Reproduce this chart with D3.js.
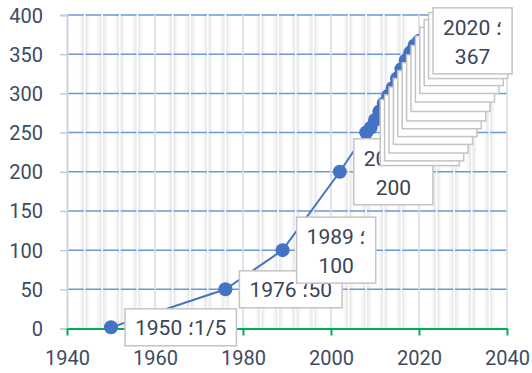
<!DOCTYPE html>
<html>
<head>
<meta charset="utf-8">
<script src="https://cdn.jsdelivr.net/npm/d3@7"></script>
<style>
  html, body { margin: 0; padding: 0; background: #ffffff; }
  svg { display: block; }
  text { font-family: Roboto, "Noto Sans", "DejaVu Sans", sans-serif; }
</style>
</head>
<body>
<svg id="chart" width="532" height="373"></svg>
<script>
// Series: year and value of each point
const years  = [1950, 1976, 1989, 2002, 2008, 2009, 2010, 2011, 2012, 2013, 2014, 2015, 2016, 2017, 2018, 2019, 2020];
const values = [1.5,  50,   100,  200,  250,  256,  266,  277,  287,  297,  307,  319,  331,  342,  352,  361,  367];

// Axis ticks
const xTicks = [1940, 1960, 1980, 2000, 2020, 2040];
const yTicks = [0, 50, 100, 150, 200, 250, 300, 350, 400];
const minorStep = 4;

const W = 532, H = 373;
const margin = { top: 15, right: 25, bottom: 44.5, left: 67 };

const svg = d3.select("#chart");
const x = d3.scaleLinear().domain([1940, 2040]).range([margin.left, W - margin.right]);
const y = d3.scaleLinear().domain([0, 400]).range([H - margin.bottom, margin.top]);

const plotTop = y(400), plotBottom = y(0), plotLeft = x(1940), plotRight = x(2040);

// Soft shading for the minor vertical gridlines
const defs = svg.append("defs");
const grad = defs.append("linearGradient").attr("id", "minorBand")
  .attr("x1", "0").attr("x2", "1").attr("y1", "0").attr("y2", "0");
[[0, "#ffffff", 0], [0.3, "#f0f0f0", 1], [0.46, "#e6e6e6", 1], [0.5, "#ffffff", 1],
 [0.54, "#e6e6e6", 1], [0.7, "#f0f0f0", 1], [1, "#ffffff", 0]].forEach(([o, c, a]) => {
  grad.append("stop").attr("offset", o).attr("stop-color", c).attr("stop-opacity", a);
});

const minorYears = d3.range(1940 + minorStep, 2040, minorStep).filter(v => v % 20 !== 0);

const grid = svg.append("g");
grid.selectAll("rect.band").data(minorYears).join("rect")
  .attr("class", "band")
  .attr("x", d => x(d) - 7).attr("width", 14)
  .attr("y", plotTop).attr("height", plotBottom - plotTop)
  .attr("fill", "url(#minorBand)");

// Horizontal gridlines
grid.selectAll("line.h").data(yTicks.filter(v => v > 0)).join("line")
  .attr("class", "h")
  .attr("x1", plotLeft).attr("x2", plotRight)
  .attr("y1", d => y(d)).attr("y2", d => y(d))
  .attr("stroke", "#6a9ad6").attr("stroke-width", 1.5);

// Minor vertical lines (white core)
grid.selectAll("line.m").data(minorYears).join("line")
  .attr("class", "m")
  .attr("x1", d => x(d)).attr("x2", d => x(d))
  .attr("y1", plotTop - 1).attr("y2", plotBottom)
  .attr("stroke", "#ffffff").attr("stroke-width", 1.6);

// Major vertical gridlines
grid.selectAll("line.v").data(xTicks.filter(v => v > 1940)).join("line")
  .attr("class", "v")
  .attr("x1", d => x(d)).attr("x2", d => x(d))
  .attr("y1", plotTop).attr("y2", plotBottom)
  .attr("stroke", "#d8dde7").attr("stroke-width", 1.6);

// Y axis
const yAxis = svg.append("g").attr("transform", `translate(${plotLeft},0)`)
  .call(d3.axisLeft(y).tickValues(yTicks).tickSize(7).tickPadding(17));
yAxis.select(".domain").attr("stroke", "#cdd4e0").attr("stroke-width", 2);
yAxis.selectAll(".tick line").attr("stroke", "#c3cad6").attr("stroke-width", 1.5);
yAxis.selectAll(".tick text")
  .attr("fill", "#3d4b60").style("font-size", "20px")
  .attr("dy", "0.35em");

// X axis (green baseline)
const xAxis = svg.append("g").attr("transform", `translate(0,${plotBottom})`)
  .call(d3.axisBottom(x).tickValues(xTicks).tickFormat(d3.format("d")).tickSize(7).tickSizeOuter(0).tickPadding(15));
xAxis.select(".domain").attr("stroke", "#00b050").attr("stroke-width", 2);
xAxis.selectAll(".tick line").attr("stroke", "#00b050").attr("stroke-width", 2);
xAxis.selectAll(".tick text")
  .attr("fill", "#3d4b60").style("font-size", "20px");

// Series line and markers
const pts = years.map((yr, i) => ({ year: yr, value: values[i] }));
svg.append("path").datum(pts)
  .attr("fill", "none").attr("stroke", "#4472c4").attr("stroke-width", 2)
  .attr("d", d3.line().x(d => x(d.year)).y(d => y(d.value)));

svg.append("g").selectAll("circle").data(pts).join("circle")
  .attr("cx", d => x(d.year)).attr("cy", d => y(d.value)).attr("r", 7)
  .attr("fill", "#4472c4");

// Data labels: "year ؛value" with Persian decimal slash
const SEP = "\u061B";
const LRM = "\u200E";
const fmtValue = v => String(v).replace(".", "/");

const labels = svg.append("g");
pts.forEach(d => {
  const px = x(d.year), py = y(d.value);
  const wrap = d.value >= 100;
  const lines = wrap
    ? [`${d.year} ${SEP}`, fmtValue(d.value)]
    : [`${d.year} ${SEP}${LRM}${fmtValue(d.value)}`];
  const g = labels.append("g");
  const rect = g.append("rect").attr("fill", "#ffffff")
    .attr("stroke", "#c4c4c4").attr("stroke-width", 1.5);
  const texts = lines.map(t => g.append("text")
    .attr("text-anchor", "middle")
    .attr("fill", "#3a4456")
    .style("font-size", "21px")
    .text(t));
  const tw = d3.max(texts, t => t.node().getComputedTextLength());
  const bw = tw + 20;
  const bh = wrap ? 66 : 37;
  const bx = px + 14;
  const by = py - bh / 2;
  rect.attr("x", bx).attr("y", by).attr("width", bw).attr("height", bh);
  texts.forEach((t, i) => {
    const cy = wrap ? (i === 0 ? py - 13 : py + 16) : py;
    t.attr("x", bx + bw / 2).attr("y", cy).attr("dy", "0.35em");
  });
});
</script>
</body>
</html>
